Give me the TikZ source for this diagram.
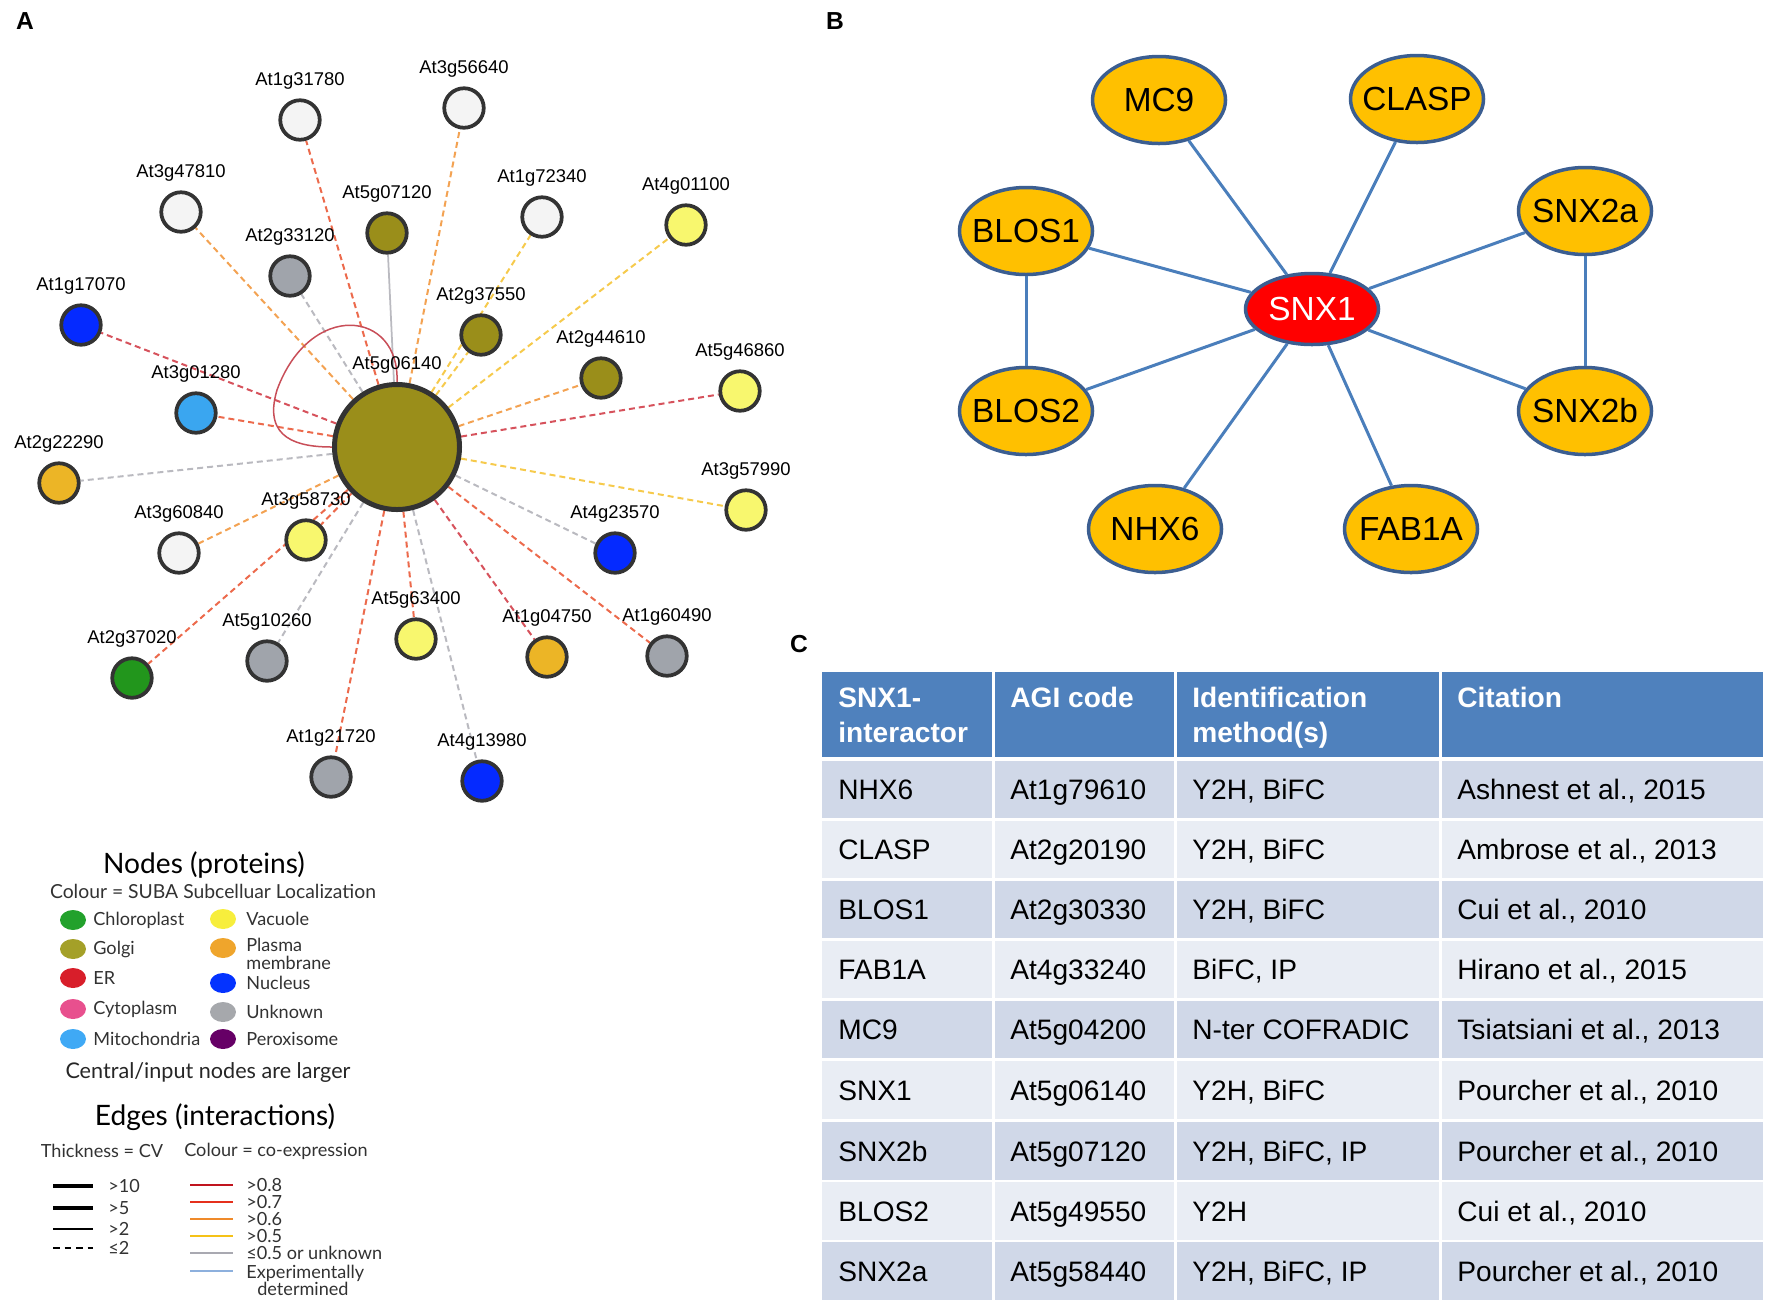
\documentclass[tikz,border=0pt]{standalone}
\usepackage{fontspec}
\setmainfont{Liberation Sans}
\newfontfamily\legendfont{Lato}
\usepackage{tikz}
\usetikzlibrary{positioning,shapes.geometric,backgrounds}
\usepackage{xcolor}
\definecolor{ring}{RGB}{51,51,51}
\definecolor{nodata}{RGB}{244,244,244}
\definecolor{golgi}{RGB}{154,142,26}
\definecolor{vacuole}{RGB}{248,247,110}
\definecolor{unknown}{RGB}{160,164,171}
\definecolor{nucleus}{RGB}{5,42,255}
\definecolor{mito}{RGB}{58,166,240}
\definecolor{plasma}{RGB}{236,181,38}
\definecolor{chloro}{RGB}{34,150,28}
\definecolor{coR}{RGB}{214,82,92}
\definecolor{coRO}{RGB}{236,106,76}
\definecolor{coO}{RGB}{243,162,82}
\definecolor{coY}{RGB}{246,202,76}
\definecolor{coG}{RGB}{186,186,192}
\definecolor{selfloop}{RGB}{200,78,88}
\definecolor{snxgold}{RGB}{255,192,0}
\definecolor{snxred}{RGB}{255,0,0}
\definecolor{snxborder}{RGB}{59,94,145}
\definecolor{bioblue}{RGB}{74,126,187}
\definecolor{tabhead}{RGB}{79,129,189}
\definecolor{rowdark}{RGB}{208,216,232}
\definecolor{rowlight}{RGB}{233,237,244}
\definecolor{leggray}{RGB}{50,50,50}
\definecolor{lchloro}{RGB}{34,161,44}
\definecolor{lgolgi}{RGB}{164,160,40}
\definecolor{ler}{RGB}{216,30,42}
\definecolor{lcyto}{RGB}{232,80,142}
\definecolor{lmito}{RGB}{63,169,245}
\definecolor{lvacuole}{RGB}{247,238,60}
\definecolor{lplasma}{RGB}{239,165,44}
\definecolor{lnucleus}{RGB}{4,51,255}
\definecolor{lunknown}{RGB}{166,168,172}
\definecolor{lperox}{RGB}{102,0,102}
\definecolor{ce8}{RGB}{192,20,30}
\definecolor{ce7}{RGB}{229,48,28}
\definecolor{ce6}{RGB}{239,138,42}
\definecolor{ce5}{RGB}{245,194,24}
\definecolor{ceu}{RGB}{169,169,177}
\definecolor{ceexp}{RGB}{141,176,221}
\tikzstyle{prot} = [circle, draw=ring, line width=0.75mm, minimum size=7.9mm, inner sep=0pt]
\tikzstyle{hubnode} = [circle, draw=ring, line width=1mm, minimum size=25mm, inner sep=0pt, fill=golgi]
\tikzstyle{agi} = [font=\fontsize{10.5}{12}\selectfont, inner sep=0pt]
\tikzstyle{coexp} = [line width=0.4mm, dash pattern=on 1.2mm off 0.8mm]
\tikzstyle{loopedge} = [line width=0.3mm, color=selfloop]
\tikzstyle{partner} = [ellipse, draw=snxborder, line width=0.7mm, fill=snxgold, minimum width=26.6mm, minimum height=17.4mm, inner xsep=-3mm, inner ysep=0pt, font=\fontsize{19}{22}\selectfont]
\tikzstyle{bioedge} = [line width=0.6mm, color=bioblue]
\tikzstyle{panel} = [font=\fontsize{14}{16}\selectfont\bfseries]
\tikzstyle{cell} = [anchor=base west, font=\fontsize{16}{19}\selectfont, inner sep=0pt]
\tikzstyle{headcell} = [anchor=north west, align=left, text=white, font=\fontsize{16}{20}\selectfont\bfseries, inner sep=0pt]
\tikzstyle{legdot} = [ellipse, minimum width=5.2mm, minimum height=4mm, inner sep=0pt]
\tikzstyle{legtext} = [anchor=west, align=left, font=\legendfont\fontsize{10.3}{10.3}\selectfont, text=leggray, inner sep=0pt]
\tikzstyle{legtitle} = [font=\legendfont\fontsize{16}{18}\selectfont, text=black, inner sep=0pt]
\begin{document}
\begin{tikzpicture}[x=0.2mm, y=-0.2mm, node distance=7.8mm]
\useasboundingbox (0,0) rectangle (1772,1313);

% Panel letters
\node (pA) [panel] at (25,21) {A};
\node (pB) [panel] at (835,21) {B};
\node (pC) [panel] at (799,644) {C};

% A: central protein
\node (hub) [hubnode] at (397,447) {};
\node (lhub) [agi, above of=hub, node distance=16.4mm] {At5g06140};

% A: interactors
\node (at1g31780) [prot, fill=nodata] at (300,120) {};
\node (at3g56640) [prot, fill=nodata] at (464,108) {};
\node (at3g47810) [prot, fill=nodata] at (181,212) {};
\node (at5g07120) [prot, fill=golgi] at (387,233) {};
\node (at1g72340) [prot, fill=nodata] at (542,217) {};
\node (at4g01100) [prot, fill=vacuole] at (686,225) {};
\node (at2g33120) [prot, fill=unknown] at (290,276) {};
\node (at1g17070) [prot, fill=nucleus] at (81,325) {};
\node (at2g37550) [prot, fill=golgi] at (481,335) {};
\node (at2g44610) [prot, fill=golgi] at (601,378) {};
\node (at5g46860) [prot, fill=vacuole] at (740,391) {};
\node (at3g01280) [prot, fill=mito] at (196,413) {};
\node (at2g22290) [prot, fill=plasma] at (59,483) {};
\node (at3g57990) [prot, fill=vacuole] at (746,510) {};
\node (at3g60840) [prot, fill=nodata] at (179,553) {};
\node (at3g58730) [prot, fill=vacuole] at (306,540) {};
\node (at4g23570) [prot, fill=nucleus] at (615,553) {};
\node (at2g37020) [prot, fill=chloro] at (132,678) {};
\node (at5g10260) [prot, fill=unknown] at (267,661) {};
\node (at5g63400) [prot, fill=vacuole] at (416,639) {};
\node (at1g04750) [prot, fill=plasma] at (547,657) {};
\node (at1g60490) [prot, fill=unknown] at (667,656) {};
\node (at1g21720) [prot, fill=unknown] at (331,777) {};
\node (at4g13980) [prot, fill=nucleus] at (482,781) {};

% A: interactor labels
\node (l1g31780) [agi, above of=at1g31780] {At1g31780};
\node (l3g56640) [agi, above of=at3g56640] {At3g56640};
\node (l3g47810) [agi, above of=at3g47810] {At3g47810};
\node (l5g07120) [agi, above of=at5g07120] {At5g07120};
\node (l1g72340) [agi, above of=at1g72340] {At1g72340};
\node (l4g01100) [agi, above of=at4g01100] {At4g01100};
\node (l2g33120) [agi, above of=at2g33120] {At2g33120};
\node (l1g17070) [agi, above of=at1g17070] {At1g17070};
\node (l2g37550) [agi, above of=at2g37550] {At2g37550};
\node (l2g44610) [agi, above of=at2g44610] {At2g44610};
\node (l5g46860) [agi, above of=at5g46860] {At5g46860};
\node (l3g01280) [agi, above of=at3g01280] {At3g01280};
\node (l2g22290) [agi, above of=at2g22290] {At2g22290};
\node (l3g57990) [agi, above of=at3g57990] {At3g57990};
\node (l3g60840) [agi, above of=at3g60840] {At3g60840};
\node (l3g58730) [agi, above of=at3g58730] {At3g58730};
\node (l4g23570) [agi, above of=at4g23570] {At4g23570};
\node (l2g37020) [agi, above of=at2g37020] {At2g37020};
\node (l5g10260) [agi, above of=at5g10260] {At5g10260};
\node (l5g63400) [agi, above of=at5g63400] {At5g63400};
\node (l1g04750) [agi, above of=at1g04750] {At1g04750};
\node (l1g60490) [agi, above of=at1g60490] {At1g60490};
\node (l1g21720) [agi, above of=at1g21720] {At1g21720};
\node (l4g13980) [agi, above of=at4g13980] {At4g13980};

% A: interactions, behind the nodes
\begin{scope}[on background layer]
\draw[coexp, color=coRO] (hub) -- (at1g31780);
\draw[coexp, color=coO] (hub) -- (at3g56640);
\draw[coexp, color=coO] (hub) -- (at3g47810);
\draw[line width=0.35mm, color=coG] (hub) -- (at5g07120);
\draw[coexp, color=coY] (hub) -- (at1g72340);
\draw[coexp, color=coY] (hub) -- (at4g01100);
\draw[coexp, color=coG] (hub) -- (at2g33120);
\draw[coexp, color=coR] (hub) -- (at1g17070);
\draw[coexp, color=coY] (hub) -- (at2g37550);
\draw[coexp, color=coO] (hub) -- (at2g44610);
\draw[coexp, color=coR] (hub) -- (at5g46860);
\draw[coexp, color=coRO] (hub) -- (at3g01280);
\draw[coexp, color=coG] (hub) -- (at2g22290);
\draw[coexp, color=coY] (hub) -- (at3g57990);
\draw[coexp, color=coO] (hub) -- (at3g60840);
\draw[coexp, color=coRO] (hub) -- (at3g58730);
\draw[coexp, color=coG] (hub) -- (at4g23570);
\draw[coexp, color=coRO] (hub) -- (at2g37020);
\draw[coexp, color=coG] (hub) -- (at5g10260);
\draw[coexp, color=coRO] (hub) -- (at5g63400);
\draw[coexp, color=coR] (hub) -- (at1g04750);
\draw[coexp, color=coRO] (hub) -- (at1g60490);
\draw[coexp, color=coRO] (hub) -- (at1g21720);
\draw[coexp, color=coG] (hub) -- (at4g13980);
% self interaction
\draw[loopedge] (hub.90) .. controls (400,310) and (310,300) .. (277,390) .. controls (262,440) and (300,447) .. (hub.180);
\end{scope}

% A: legend, nodes
\node (legnodes) [legtitle] at (204,865) {Nodes (proteins)};
\node (legsuba) [legtitle, font=\legendfont\fontsize{11}{13}\selectfont, text=leggray] at (213,891) {Colour = SUBA Subcelluar Localization};
\node (dchloro) [legdot, fill=lchloro] at (73,920) {};
\node (dgolgi) [legdot, fill=lgolgi] at (73,949) {};
\node (der) [legdot, fill=ler] at (73,978) {};
\node (dcyto) [legdot, fill=lcyto] at (73,1009) {};
\node (dmito) [legdot, fill=lmito] at (73,1039) {};
\node (dvacuole) [legdot, fill=lvacuole] at (223,919) {};
\node (dplasma) [legdot, fill=lplasma] at (223,948) {};
\node (dnucleus) [legdot, fill=lnucleus] at (223,983) {};
\node (dunknown) [legdot, fill=lunknown] at (223,1012) {};
\node (dperox) [legdot, fill=lperox] at (223,1039) {};
\node (tchloro) [legtext, right=4mm of dchloro.center] {Chloroplast};
\node (tgolgi) [legtext, right=4mm of dgolgi.center] {Golgi};
\node (ter) [legtext, right=4mm of der.center] {ER};
\node (tcyto) [legtext, right=4mm of dcyto.center] {Cytoplasm};
\node (tmito) [legtext, right=4mm of dmito.center] {Mitochondria};
\node (tvacuole) [legtext, right=4.6mm of dvacuole.center] {Vacuole};
\node (tplasma) [legtext, right=4.6mm of dplasma.center, yshift=-1.2mm] {Plasma\\membrane};
\node (tnucleus) [legtext, right=4.6mm of dnucleus.center] {Nucleus};
\node (tunknown) [legtext, right=4.6mm of dunknown.center] {Unknown};
\node (tperox) [legtext, right=4.6mm of dperox.center] {Peroxisome};
\node (legcentral) [legtitle, font=\legendfont\fontsize{12.3}{14}\selectfont, text=black!85] at (208,1072) {Central/input nodes are larger};

% A: legend, edges
\node (legedges) [legtitle] at (215,1117) {Edges (interactions)};
\node (legthick) [legtext, anchor=center] at (102,1151) {Thickness = CV};
\node (legcolour) [legtext, anchor=center] at (276,1151) {Colour = co-expression};
\node (w10) [legtext] at (108,1186) {>10};
\node (w5) [legtext] at (108,1208) {>5};
\node (w2) [legtext] at (108,1229) {>2};
\node (w0) [legtext] at (108,1248) {≤2};
\draw[line width=0.9mm, black] (53,1186) -- (93,1186);
\draw[line width=0.65mm, black] (53,1208) -- (93,1208);
\draw[line width=0.4mm, black] (53,1229) -- (93,1229);
\draw[line width=0.4mm, black, dash pattern=on 1.3mm off 1mm] (53,1248) -- (93,1248);
\node (c8) [legtext] at (246,1185) {>0.8};
\node (c7) [legtext] at (246,1202) {>0.7};
\node (c6) [legtext] at (246,1219) {>0.6};
\node (c5) [legtext] at (246,1236) {>0.5};
\node (cu) [legtext] at (246,1253) {≤0.5 or unknown};
\node (cexp) [legtext, font=\legendfont\fontsize{10.3}{9.6}\selectfont] at (246,1280) {Experimentally\\\hspace*{2.2mm}determined};
\draw[line width=0.55mm, ce8] (190,1185) -- (233,1185);
\draw[line width=0.55mm, ce7] (190,1202) -- (233,1202);
\draw[line width=0.55mm, ce6] (190,1219) -- (233,1219);
\draw[line width=0.55mm, ce5] (190,1236) -- (233,1236);
\draw[line width=0.55mm, ceu] (190,1253) -- (233,1253);
\draw[line width=0.55mm, ceexp] (190,1271) -- (233,1271);

% B: experimentally determined interactors
\node (snx1) [partner, fill=snxred, text=white, minimum height=14.2mm] at (1312,309) {SNX1};
\node (mc9) [partner] at (1159,100) {MC9};
\node (clasp) [partner] at (1417,99) {CLASP};
\node (blos1) [partner] at (1026,231) {BLOS1};
\node (snx2a) [partner] at (1585,211) {SNX2a};
\node (blos2) [partner] at (1026,411) {BLOS2};
\node (snx2b) [partner] at (1585,411) {SNX2b};
\node (nhx6) [partner] at (1155,529) {NHX6};
\node (fab1a) [partner] at (1411,529) {FAB1A};
\draw[bioedge] (snx1) -- (mc9);
\draw[bioedge] (snx1) -- (clasp);
\draw[bioedge] (snx1) -- (blos1);
\draw[bioedge] (snx1) -- (snx2a);
\draw[bioedge] (snx1) -- (blos2);
\draw[bioedge] (snx1) -- (snx2b);
\draw[bioedge] (snx1) -- (nhx6);
\draw[bioedge] (snx1) -- (fab1a);
\draw[bioedge] (blos1) -- (blos2);
\draw[bioedge] (snx2a) -- (snx2b);

% C: table background
\fill[tabhead] (822,672) rectangle (1763,757);
\fill[rowdark] (822,761) rectangle (1763,818);
\fill[rowlight] (822,821) rectangle (1763,878);
\fill[rowdark] (822,881) rectangle (1763,938);
\fill[rowlight] (822,941) rectangle (1763,998);
\fill[rowdark] (822,1001) rectangle (1763,1058);
\fill[rowlight] (822,1061) rectangle (1763,1119);
\fill[rowdark] (822,1122) rectangle (1763,1180);
\fill[rowlight] (822,1182) rectangle (1763,1240);
\fill[rowdark] (822,1242) rectangle (1763,1300);
\draw[white, line width=0.6mm] (993,672) -- (993,1300);
\draw[white, line width=0.6mm] (1175,672) -- (1175,1300);
\draw[white, line width=0.6mm] (1440,672) -- (1440,1300);

% C: header
\node (h1) [headcell] at (838,687) {SNX1-\\interactor};
\node (h2) [headcell] at (1010,687) {AGI code};
\node (h3) [headcell] at (1192,687) {Identification\\method(s)};
\node (h4) [headcell] at (1457,687) {Citation};

% C: rows
\node (r1a) [cell] at (838,799) {NHX6};
\node (r1b) [cell] at (1010,799) {At1g79610};
\node (r1c) [cell] at (1192,799) {Y2H, BiFC};
\node (r1d) [cell] at (1457,799) {Ashnest et al., 2015};
\node (r2a) [cell] at (838,859) {CLASP};
\node (r2b) [cell] at (1010,859) {At2g20190};
\node (r2c) [cell] at (1192,859) {Y2H, BiFC};
\node (r2d) [cell] at (1457,859) {Ambrose et al., 2013};
\node (r3a) [cell] at (838,919) {BLOS1};
\node (r3b) [cell] at (1010,919) {At2g30330};
\node (r3c) [cell] at (1192,919) {Y2H, BiFC};
\node (r3d) [cell] at (1457,919) {Cui et al., 2010};
\node (r4a) [cell] at (838,979) {FAB1A};
\node (r4b) [cell] at (1010,979) {At4g33240};
\node (r4c) [cell] at (1192,979) {BiFC, IP};
\node (r4d) [cell] at (1457,979) {Hirano et al., 2015};
\node (r5a) [cell] at (838,1039) {MC9};
\node (r5b) [cell] at (1010,1039) {At5g04200};
\node (r5c) [cell] at (1192,1039) {N-ter COFRADIC};
\node (r5d) [cell] at (1457,1039) {Tsiatsiani et al., 2013};
\node (r6a) [cell] at (838,1100) {SNX1};
\node (r6b) [cell] at (1010,1100) {At5g06140};
\node (r6c) [cell] at (1192,1100) {Y2H, BiFC};
\node (r6d) [cell] at (1457,1100) {Pourcher et al., 2010};
\node (r7a) [cell] at (838,1161) {SNX2b};
\node (r7b) [cell] at (1010,1161) {At5g07120};
\node (r7c) [cell] at (1192,1161) {Y2H, BiFC, IP};
\node (r7d) [cell] at (1457,1161) {Pourcher et al., 2010};
\node (r8a) [cell] at (838,1221) {BLOS2};
\node (r8b) [cell] at (1010,1221) {At5g49550};
\node (r8c) [cell] at (1192,1221) {Y2H};
\node (r8d) [cell] at (1457,1221) {Cui et al., 2010};
\node (r9a) [cell] at (838,1281) {SNX2a};
\node (r9b) [cell] at (1010,1281) {At5g58440};
\node (r9c) [cell] at (1192,1281) {Y2H, BiFC, IP};
\node (r9d) [cell] at (1457,1281) {Pourcher et al., 2010};
\end{tikzpicture}
\end{document}
